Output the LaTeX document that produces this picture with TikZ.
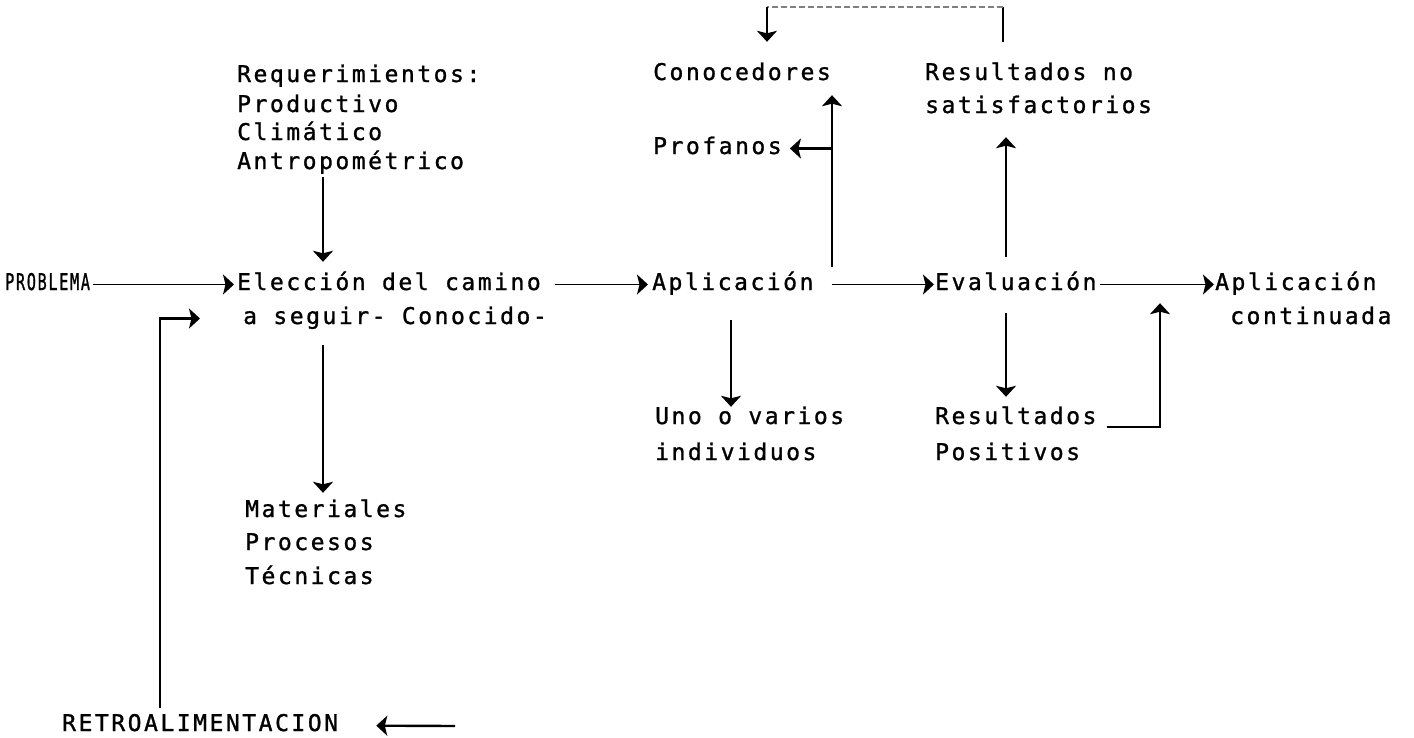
\documentclass[tikz,border=0pt]{standalone}
\usepackage{fontspec}
\usepackage{graphicx}
\usetikzlibrary{arrows.meta,calc}
\newfontfamily\mono[LetterSpace=11, FakeBold=1.2]{DejaVu Sans Mono}
\tikzset{
  txt/.style={anchor=base west, inner sep=0pt, text height=16pt, text depth=5pt,
              font=\mono\fontsize{23}{27}\selectfont},
  bighead/.tip={Stealth[length=11pt,width=20pt,inset=2.5pt]},
  arr/.style={line width=2.4pt, -bighead},
  harr/.style={line width=1.8pt, -bighead},
  ln/.style={line width=2.4pt},
  faint/.style={line width=1.2pt, gray, dash pattern=on 6pt off 3pt}}
\begin{document}
\begin{tikzpicture}[x=1pt,y=-1pt]
\useasboundingbox (0,0) rectangle (1414,737);
\coordinate (colA) at (323,0);
\coordinate (colF) at (160,0);
\coordinate (colE) at (1006,0);
\coordinate (colP) at (1160,0);
\coordinate (colU) at (731,0);
\coordinate (colC) at (832,0);
\coordinate (tr) at (1003,7);
\coordinate (tl) at (767,7);
\coordinate (retroend) at (455,726);

\node[txt] (req1) at (237,82) {Requerimientos:};
\node[txt] (req2) at (237,112) {Productivo};
\node[txt] (req3) at (237,140) {Climático};
\node[txt] (req4) at (237,169) {Antropométrico};
\node[txt] (cono) at (653,80) {Conocedores};
\node[txt] (prof) at (653,154) {Profanos};
\node[txt] (resno1) at (925,80) {Resultados no};
\node[txt] (resno2) at (925,113) {satisfactorios};
\node[txt] (prob) at (5,290) {\scalebox{0.66}[1]{PROBLEMA}};
\node[txt] (elec1) at (237,290) {Elección del camino};
\node[txt] (elec2) at (243,324) {a seguir- Conocido-};
\node[txt] (apl) at (652,290) {Aplicación};
\node[txt] (eva) at (935,290) {Evaluación};
\node[txt] (aplc1) at (1215,290) {Aplicación};
\node[txt] (aplc2) at (1230,324) {continuada};
\node[txt] (uno1) at (655,424) {Uno o varios};
\node[txt] (uno2) at (655,460) {individuos};
\node[txt] (respos1) at (935,424) {Resultados};
\node[txt] (respos2) at (935,460) {Positivos};
\node[txt] (mat1) at (245,517) {Materiales};
\node[txt] (mat2) at (245,550) {Procesos};
\node[txt] (mat3) at (245,584) {Técnicas};
\node[txt] (retro) at (62,731) {RETROALIMENTACION};

% main row
\draw[harr, shorten <=3pt, shorten >=3pt] (prob.east) -- (elec1.west);
\draw[harr, shorten <=14pt, shorten >=4pt] (elec1.east) -- (apl.west);
\draw[harr, shorten <=18pt, shorten >=1pt] (apl.east) -- (eva.west);
\draw[harr, shorten <=3pt, shorten >=1pt] (eva.east) -- (aplc1.west);

% requirements and materials
\draw[arr, shorten <=3pt, shorten >=12pt] (req4.south -| colA) -- (elec1.north -| colA);
\draw[arr, shorten <=16pt, shorten >=8pt] (elec2.south -| colA) -- (mat1.north -| colA);

% application branches
\draw[arr, shorten <=7pt, shorten >=10pt] (apl.north -| colC) -- (cono.south -| colC);
\draw[arr, shorten >=8pt] (prof.east -| colC) -- (prof.east);
\draw[arr, shorten <=25pt, shorten >=1pt] (apl.south -| colU) -- (uno1.north -| colU);

% evaluation branches
\draw[arr, shorten <=17pt, shorten >=19pt] (eva.north -| colE) -- (resno2.south -| colE);
\draw[arr, shorten <=18pt, shorten >=11pt] (eva.south -| colE) -- (respos1.north -| colE);
\draw[arr, shorten >=8pt] ($(respos1.base east)+(10,3)$) -| (aplc1.south -| colP);

% bracket from unsatisfactory results back to experts
\draw[ln] ($(resno1.north -| tr)+(0,-22)$) -- (tr);
\draw[faint] (tr) -- (tl);
\draw[arr] (tl) -- ($(cono.north -| tl)+(0,-22)$);

% feedback
\draw[arr, shorten <=7pt] (retro.north -| colF) |- ($(elec2.west)+(-43,0)$);
\draw[arr, shorten >=38pt] (retroend) -- (retro.east);
\end{tikzpicture}
\end{document}
